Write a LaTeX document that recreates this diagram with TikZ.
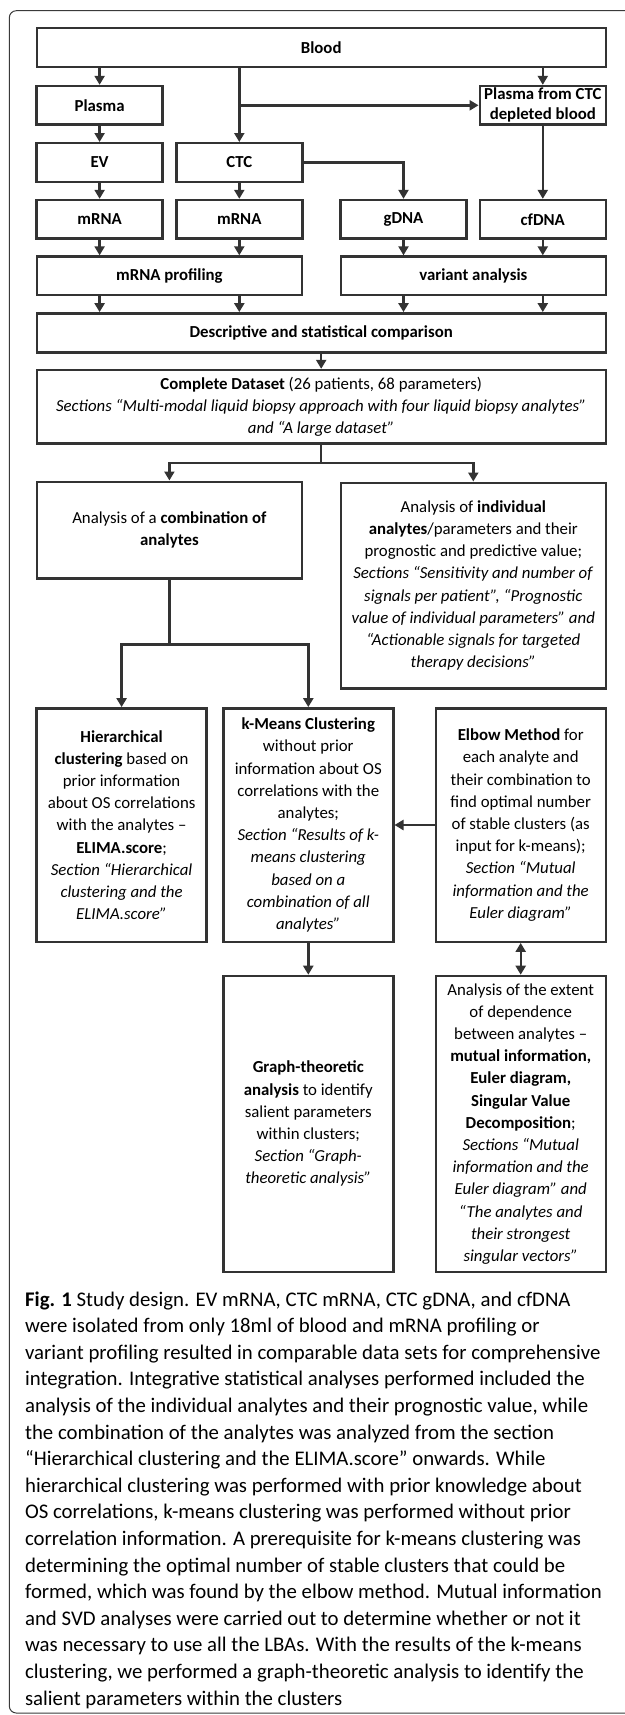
\documentclass[tikz,border=0pt]{standalone}
\usepackage{fontspec}
\setmainfont{Carlito}
\usetikzlibrary{arrows.meta}
\definecolor{linegray}{HTML}{333333}
\definecolor{framegray}{HTML}{3A3A3A}
\newcommand{\boxfont}{\fontsize{8.4}{11.1}\selectfont}
\newcommand{\capfont}{\fontsize{10.4}{13.3}\selectfont}
\begin{document}
\begin{tikzpicture}[x=0.5pt, y=-0.5pt, >={Triangle[length=4.5pt,width=5pt]},%
% common options for all boxes:
box/.style = {draw=linegray, line width=1.2pt, align=center, inner sep=0, font=\boxfont},
% common options for the boxes with one bold label:
small/.style = {box, minimum width=63pt, minimum height=19.3pt, font=\boxfont\bfseries},
wide/.style = {box, minimum width=284.5pt, minimum height=19.5pt, font=\boxfont\bfseries},
half/.style = {box, minimum width=132.6pt, minimum height=19.3pt, font=\boxfont\bfseries},
% common options for the three lower columns:
third/.style = {box, minimum width=85pt, minimum height=116.7pt},
link/.style = {draw=linegray, line width=1.2pt}]
\useasboundingbox (0,0) rectangle (625,1715);
\draw[framegray, line width=0.5pt, rounded corners=3.5pt] (9.3,10.7) rectangle (660,1713);
\node[wide] (blood) at (321.2,47.5) {Blood};
\node[small] (plasma) at (99.6,105.3) {Plasma};
\node[small, font=\fontsize{8.4}{10}\selectfont\bfseries] (pcdb) at (542.8,105.3) {Plasma from CTC\\depleted blood};
\node[small] (ev) at (99.6,162.5) {EV};
\node[small] (ctc) at (239.3,162.5) {CTC};
\node[small] (mrnaev) at (99.6,219.3) {mRNA};
\node[small] (mrnactc) at (239.3,219.3) {mRNA};
\node[small] (gdna) at (403.5,219.3) {gDNA};
\node[small] (cfdna) at (542.8,219.3) {cfDNA};
\node[half] (prof) at (169.4,275.8) {mRNA profiling};
\node[half] (variant) at (473.3,275.8) {variant analysis};
\node[wide] (desc) at (321.2,332.8) {Descriptive and statistical comparison};
\node[box, minimum width=284.5pt, minimum height=36.7pt] (complete) at (321.2,406.7)
  {\textbf{Complete Dataset} (26 patients, 68 parameters)\\
   \textit{Sections “Multi-modal liquid biopsy approach with four liquid biopsy analytes”}\\
   \textit{and “A large dataset”}};
\node[box, minimum width=132.6pt, minimum height=48.3pt] (comb) at (169.4,530)
  {Analysis of a \textbf{combination of}\\ \textbf{analytes}};
\node[box, minimum width=132.6pt, minimum height=102.8pt] (indiv) at (473.3,585.5)
  {Analysis of \textbf{individual}\\
   \textbf{analytes}/parameters and their\\
   prognostic and predictive value;\\
   \textit{Sections “Sensitivity and number of}\\
   \textit{signals per patient”, “Prognostic}\\
   \textit{value of individual parameters” and}\\
   \textit{“Actionable signals for targeted}\\
   \textit{therapy decisions”}};
\node[third] (hier) at (121.6,825)
  {\textbf{Hierarchical}\\
   \textbf{clustering} based on\\
   prior information\\
   about OS correlations\\
   with the analytes –\\
   \textbf{ELIMA.score};\\
   \textit{Section “Hierarchical}\\
   \textit{clustering and the}\\
   \textit{ELIMA.score”}};
\node[third] (kmeans) at (308.3,825)
  {\textbf{k-Means Clustering}\\
   without prior\\
   information about OS\\
   correlations with the\\
   analytes;\\
   \textit{Section “Results of k-}\\
   \textit{means clustering}\\
   \textit{based on a}\\
   \textit{combination of all}\\
   \textit{analytes”}};
\node[third] (elbow) at (520.7,825)
  {\textbf{Elbow Method} for\\
   each analyte and\\
   their combination to\\
   find optimal number\\
   of stable clusters (as\\
   input for k-means);\\
   \textit{Section “Mutual}\\
   \textit{information and the}\\
   \textit{Euler diagram”}};
\node[third, minimum height=147.9pt] (graph) at (308.3,1123.8)
  {\textbf{Graph-theoretic}\\
   \textbf{analysis} to identify\\
   salient parameters\\
   within clusters;\\
   \textit{Section “Graph-}\\
   \textit{theoretic analysis”}};
\node[third, minimum height=147.9pt] (extent) at (520.7,1123.8)
  {Analysis of the extent\\
   of dependence\\
   between analytes –\\
   \textbf{mutual information,}\\
   \textbf{Euler diagram,}\\
   \textbf{Singular Value}\\
   \textbf{Decomposition};\\
   \textit{Sections “Mutual}\\
   \textit{information and the}\\
   \textit{Euler diagram” and}\\
   \textit{“The analytes and}\\
   \textit{their strongest}\\
   \textit{singular vectors”}};
\node[anchor=north west, inner sep=0, align=left, font=\capfont] (caption) at (24.7,1291)
  {\textbf{Fig. 1} Study design. EV mRNA, CTC mRNA, CTC gDNA, and cfDNA\\
   were isolated from only 18ml of blood and mRNA profiling or\\
   variant profiling resulted in comparable data sets for comprehensive\\
   integration. Integrative statistical analyses performed included the\\
   analysis of the individual analytes and their prognostic value, while\\
   the combination of the analytes was analyzed from the section\\
   “Hierarchical clustering and the ELIMA.score” onwards. While\\
   hierarchical clustering was performed with prior knowledge about\\
   OS correlations, k-means clustering was performed without prior\\
   correlation information. A prerequisite for k-means clustering was\\
   determining the optimal number of stable clusters that could be\\
   formed, which was found by the elbow method. Mutual information\\
   and SVD analyses were carried out to determine whether or not it\\
   was necessary to use all the LBAs. With the results of the k-means\\
   clustering, we performed a graph-theoretic analysis to identify the\\
   salient parameters within the clusters};
\draw[link,->] (plasma|-blood.south) to (plasma.north);
\draw[link,->] (ctc|-blood.south) to (ctc.north);
\draw[link,->] (ctc|-pcdb.west) to (pcdb.west);
\draw[link,->] (pcdb|-blood.south) to (pcdb.north);
\draw[link,->] (plasma.south) to (ev.north);
\draw[link,->] (ev.south) to (mrnaev.north);
\draw[link,->] (ctc.south) to (mrnactc.north);
\draw[link,->] (ctc.east) -| (gdna.north);
\draw[link,->] (pcdb.south) to (cfdna.north);
\draw[link,->] (mrnaev.south) to (mrnaev|-prof.north);
\draw[link,->] (mrnactc.south) to (mrnactc|-prof.north);
\draw[link,->] (gdna.south) to (gdna|-variant.north);
\draw[link,->] (cfdna.south) to (cfdna|-variant.north);
\draw[link,->] (mrnaev|-prof.south) to (mrnaev|-desc.north);
\draw[link,->] (mrnactc|-prof.south) to (mrnactc|-desc.north);
\draw[link,->] (gdna|-variant.south) to (gdna|-desc.north);
\draw[link,->] (cfdna|-variant.south) to (cfdna|-desc.north);
\draw[link,->] (desc.south) to (complete.north);
\draw[link] (complete.south) -- ++(0,18.4) coordinate (fork1);
\draw[link,->] (fork1) -| (comb.north);
\draw[link,->] (fork1) -| (indiv.north);
\draw[link] (comb.south) -- ++(0,65) coordinate (fork2);
\draw[link,->] (fork2) -| (hier.north);
\draw[link,->] (fork2) -| (kmeans.north);
\draw[link,->] (elbow.west) to (kmeans.east);
\draw[link,->] (kmeans.south) to (graph.north);
\draw[link,<->] (elbow.south) to (extent.north);
\end{tikzpicture}
\end{document}
